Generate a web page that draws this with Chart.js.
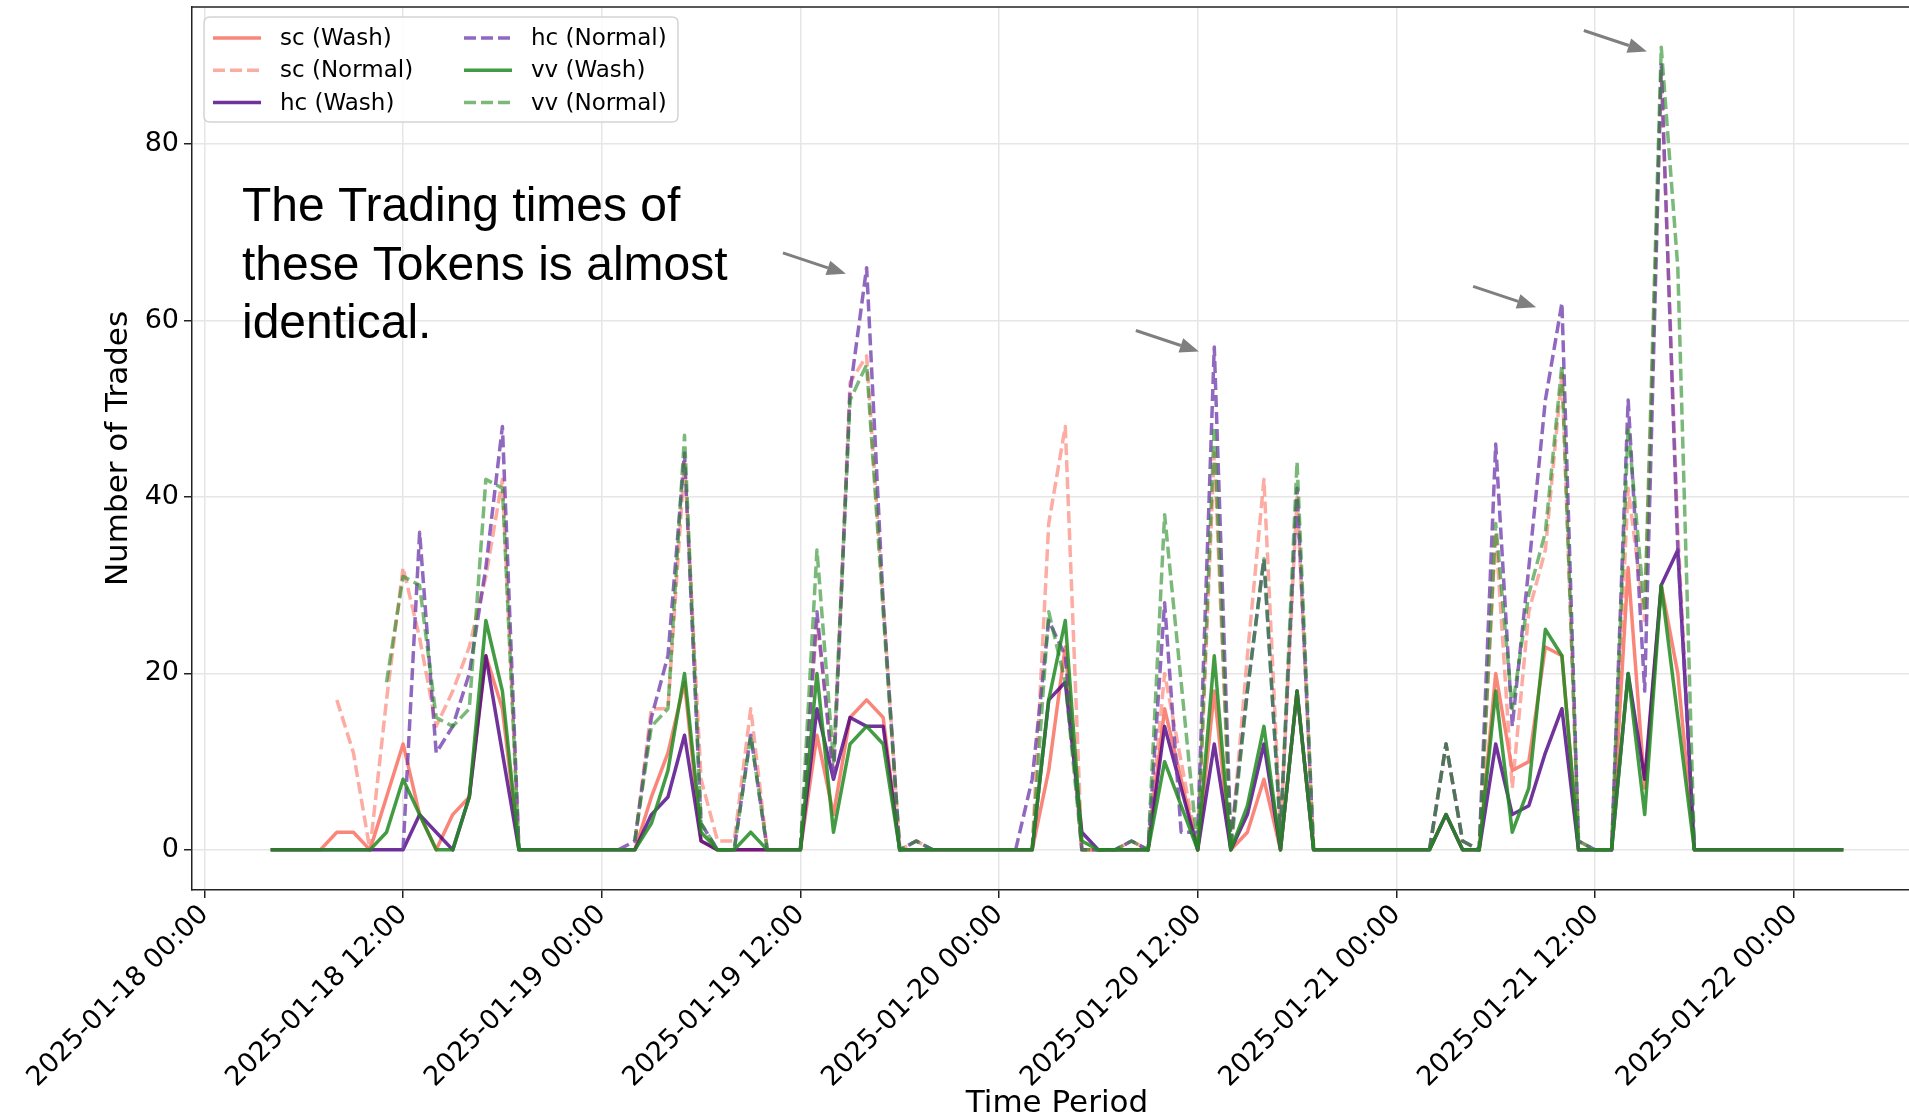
<!DOCTYPE html>
<html>
<head>
<meta charset="utf-8">
<title>Trades per hour</title>
<script src="https://cdn.jsdelivr.net/npm/chart.js@4.4.1/dist/chart.umd.min.js"></script>
<style>
  html, body { margin: 0; padding: 0; background: #fff; overflow: hidden; }
  #wrap { width: 1909px; height: 1119px; overflow: hidden; }
</style>
</head>
<body>
<div id="wrap"><canvas id="tradesChart" width="1925" height="1119"></canvas></div>
<script>
// hourly counts, first value is 2025-01-18 04:00, last is 2025-01-22 03:00
const firstHour = 4; // hours after 2025-01-18 00:00

let scWash = [
  0, 0, 0, 0, 2, 2, 0, 6, 12, 4, 0, 4, 6, 22, 16, 0, 0, 0, 0, 0,
  0, 0, 0, 6, 11, 19, 1, 0, 0, 0, 0, 0, 0, 13, 4, 15, 17, 15, 0, 0, 0, 0, 0, 0,
  0, 0, 0, 9, 23, 0, 0, 0, 0, 0, 16, 8, 0, 18, 0, 2, 8, 0, 18, 0, 0, 0, 0, 0,
  0, 0, 0, 4, 0, 0, 20, 9, 10, 23, 22, 0, 0, 0, 32, 7, 30, 20, 0, 0, 0, 0, 0, 0,
  0, 0, 0, 0
];
let scNormal = [
  null, null, null, null, 17, 11, 0, 17, 32, 24, 14, 18, 23, 31, 42, 0, null, null, null, null,
  null, null, 1, 16, 16, 44, 8, 1, 1, 16, 0, null, 0, 26, 9, 53, 56, 28, 0, 1, 0, null, null, null,
  null, null, 0, 37, 48, 0, 0, 0, 1, 0, 20, 10, 0, 45, 0, 22, 42, 2, 40, 0, null, null, null, null,
  null, null, 0, 12, 1, 0, 36, 7, 27, 34, 54, 1, 0, 0, 41, 26, 88, 36, 0, null, null, null, null, null,
  null, null, null, null
];
let hcWash = [
  0, 0, 0, 0, 0, 0, 0, 0, 0, 4, 2, 0, 6, 22, 11, 0, 0, 0, 0, 0,
  0, 0, 0, 4, 6, 13, 1, 0, 0, 0, 0, 0, 0, 16, 8, 15, 14, 14, 0, 0, 0, 0, 0, 0,
  0, 0, 0, 17, 19, 2, 0, 0, 0, 0, 14, 7, 0, 12, 0, 4, 12, 0, 18, 0, 0, 0, 0, 0,
  0, 0, 0, 4, 0, 0, 12, 4, 5, 11, 16, 0, 0, 0, 20, 8, 30, 34, 0, 0, 0, 0, 0, 0,
  0, 0, 0, 0
];
let hcNormal = [
  null, null, null, null, null, null, null, null, 0, 36, 11, 14, 20, 32, 48, 0, null, null, null, null,
  null, 0, 1, 15, 22, 45, 3, 0, 0, 13, 0, null, 0, 27, 8, 52, 66, 28, 0, 1, 0, null, null, null,
  null, 0, 8, 26, 22, 0, 0, 0, 1, 0, 28, 2, 2, 57, 1, 18, 33, 2, 41, 0, null, null, null, null,
  null, null, 0, 12, 1, 0, 46, 14, 32, 51, 62, 1, 0, 0, 51, 18, 89, 34, 0, null, null, null, null, null,
  null, null, null, null
];
let vvWash = [
  0, 0, 0, 0, 0, 0, 0, 2, 8, 4, 0, 0, 6, 26, 18, 0, 0, 0, 0, 0,
  0, 0, 0, 3, 9, 20, 2, 0, 0, 2, 0, 0, 0, 20, 2, 12, 14, 12, 0, 0, 0, 0, 0, 0,
  0, 0, 0, 17, 26, 1, 0, 0, 0, 0, 10, 5, 0, 22, 0, 5, 14, 0, 18, 0, 0, 0, 0, 0,
  0, 0, 0, 4, 0, 0, 18, 2, 7, 25, 22, 0, 0, 0, 20, 4, 30, 15, 0, 0, 0, 0, 0, 0,
  0, 0, 0, 0
];
let vvNormal = [
  null, null, null, null, null, null, null, 19, 31, 30, 15, 14, 16, 42, 41, 0, null, null, null, null,
  null, null, 1, 14, 16, 47, 3, 0, 0, 13, 0, null, 0, 34, 10, 51, 55, 27, 0, 1, 0, null, null, null,
  null, null, 0, 27, 19, 0, 0, 0, 1, 0, 38, 19, 0, 48, 0, 18, 33, 2, 44, 0, null, null, null, null,
  null, null, 0, 12, 1, 0, 37, 16, 29, 36, 55, 1, 0, 0, 48, 27, 91, 66, 0, null, null, null, null, null,
  null, null, null, null
];

let hours = scWash.map((v, i) => firstHour + i);
let xTicks = [0, 12, 24, 36, 48, 60, 72, 84, 96];
let yTicks = [0, 20, 40, 60, 80];

let seriesLabels = ['sc (Wash)', 'sc (Normal)', 'hc (Wash)', 'hc (Normal)', 'vv (Wash)', 'vv (Normal)'];
let seriesValues = [scWash, scNormal, hcWash, hcNormal, vvWash, vvNormal];
let seriesColors = [
  'rgba(250, 128, 114, 0.95)', 'rgba(250, 128, 114, 0.65)',
  'rgba(75, 0, 130, 0.8)', 'rgba(117, 66, 175, 0.8)',
  'rgba(34, 139, 34, 0.85)', 'rgba(34, 139, 34, 0.6)'
];

// arrows point at the peaks (hour, trades)
let arrowHours = [38.75, 60.07, 80.44, 87.13];
let arrowValues = [65.3, 56.5, 61.5, 90.5];

let noteLines = ['The Trading times of', 'these Tokens is almost', 'identical.'];

function hourLabel(h) {
  let day = 18 + Math.floor(h / 24);
  let hh = h % 24;
  return '2025-01-' + String(day).padStart(2, '0') + ' ' + String(hh).padStart(2, '0') + ':00';
}

let datasets = seriesLabels.map((label, i) => ({
  label: label,
  data: seriesValues[i].map((v, j) => ({ x: hours[j], y: v })),
  borderColor: seriesColors[i],
  backgroundColor: seriesColors[i],
  borderDash: i % 2 === 1 ? [12, 5] : [],
  borderWidth: 3.5,
  borderJoinStyle: 'round',
  pointRadius: 0,
  tension: 0,
  fill: false,
  spanGaps: false,
  order: 6 - i
}));

function drawArrow(ctx, x0, y0, x1, y1) {
  let a = Math.atan2(y1 - y0, x1 - x0);
  let headLen = 19, headW = 7.5;
  let bx = x1 - headLen * Math.cos(a), by = y1 - headLen * Math.sin(a);
  ctx.beginPath();
  ctx.moveTo(x0, y0);
  ctx.lineTo(bx, by);
  ctx.stroke();
  ctx.beginPath();
  ctx.moveTo(x1, y1);
  ctx.lineTo(bx + headW * Math.sin(a), by - headW * Math.cos(a));
  ctx.lineTo(bx - headW * Math.sin(a), by + headW * Math.cos(a));
  ctx.closePath();
  ctx.fill();
}

function roundRect(ctx, x, y, w, h, r) {
  ctx.beginPath();
  ctx.moveTo(x + r, y);
  ctx.lineTo(x + w - r, y);
  ctx.quadraticCurveTo(x + w, y, x + w, y + r);
  ctx.lineTo(x + w, y + h - r);
  ctx.quadraticCurveTo(x + w, y + h, x + w - r, y + h);
  ctx.lineTo(x + r, y + h);
  ctx.quadraticCurveTo(x, y + h, x, y + h - r);
  ctx.lineTo(x, y + r);
  ctx.quadraticCurveTo(x, y, x + r, y);
  ctx.closePath();
}

let overlay = {
  id: 'overlay',
  afterDatasetsDraw(chart) {
    let ctx = chart.ctx;
    let area = chart.chartArea;
    let xs = chart.scales.x, ys = chart.scales.y;
    ctx.save();

    // top spine
    ctx.strokeStyle = '#222';
    ctx.lineWidth = 1.5;
    ctx.beginPath();
    ctx.moveTo(area.left, area.top);
    ctx.lineTo(area.right, area.top);
    ctx.stroke();

    // arrows
    ctx.strokeStyle = '#7f7f7f';
    ctx.fillStyle = '#7f7f7f';
    ctx.lineWidth = 3;
    arrowHours.forEach((h, i) => {
      let tx = xs.getPixelForValue(h), ty = ys.getPixelForValue(arrowValues[i]);
      drawArrow(ctx, tx - 63, ty - 21, tx, ty);
    });

    // note
    ctx.fillStyle = '#000';
    ctx.font = '48px "Liberation Sans", Arial, sans-serif';
    ctx.textAlign = 'left';
    ctx.textBaseline = 'alphabetic';
    noteLines.forEach((t, i) => ctx.fillText(t, area.left + 50, area.top + 214 + i * 58.5));

    // legend, two columns filled top to bottom
    let lx = area.left + 12, ly = area.top + 10;
    ctx.fillStyle = 'rgba(255,255,255,0.85)';
    ctx.strokeStyle = '#d4d4d4';
    ctx.lineWidth = 1.5;
    roundRect(ctx, lx, ly, 474, 105, 6);
    ctx.fill();
    ctx.stroke();
    ctx.font = '23px "DejaVu Sans", sans-serif';
    ctx.textBaseline = 'middle';
    chart.data.datasets.forEach((ds, i) => {
      let col = Math.floor(i / 3), row = i % 3;
      let x0 = lx + 9 + col * 251;
      let y0 = ly + 21 + row * 32.3;
      ctx.strokeStyle = ds.borderColor;
      ctx.lineWidth = 3.5;
      ctx.setLineDash(ds.borderDash);
      ctx.beginPath();
      ctx.moveTo(x0, y0);
      ctx.lineTo(x0 + 48, y0);
      ctx.stroke();
      ctx.setLineDash([]);
      ctx.fillStyle = '#000';
      ctx.fillText(ds.label, x0 + 67, y0 + 1);
    });
    ctx.restore();
  }
};

let tickFont = { family: '"DejaVu Sans", sans-serif', size: 27 };
let titleFont = { family: '"DejaVu Sans", sans-serif', size: 31, lineHeight: 1.0 };

let tradesChart = new Chart(document.getElementById('tradesChart').getContext('2d'), {
  type: 'line',
  data: { datasets: datasets },
  options: {
    responsive: false,
    animation: false,
    devicePixelRatio: 1,
    layout: { padding: { top: 7, right: 3, bottom: 0, left: 0 } },
    plugins: {
      legend: { display: false },
      tooltip: { enabled: false }
    },
    scales: {
      x: {
        type: 'linear',
        min: -0.75,
        max: 103.75,
        afterBuildTicks: (s) => { s.ticks = xTicks.map(v => ({ value: v })); },
        afterFit: (s) => { s.height = 229; },
        grid: { color: '#e6e6e6', lineWidth: 1.5, tickColor: '#222', tickLength: 8 },
        border: { color: '#222', width: 1.5 },
        ticks: {
          autoSkip: false,
          maxRotation: 45,
          minRotation: 45,
          padding: 1,
          color: '#000',
          font: tickFont,
          callback: (v) => hourLabel(v)
        },
        title: { display: true, text: 'Time Period', color: '#000', font: titleFont, padding: { top: 0, bottom: 0 } }
      },
      y: {
        min: -4.55,
        max: 95.55,
        afterBuildTicks: (s) => { s.ticks = yTicks.map(v => ({ value: v })); },
        afterFit: (s) => { s.width = 192; s.paddingTop = 0; s.paddingBottom = 0; },
        grid: { color: '#e6e6e6', lineWidth: 1.5, tickColor: '#222', tickLength: 8 },
        border: { color: '#222', width: 1.5 },
        ticks: { padding: 5, color: '#000', font: tickFont },
        title: { display: true, text: 'Number of Trades', color: '#000', font: titleFont, padding: { top: 103, bottom: 0 } }
      }
    }
  },
  plugins: [overlay]
});
</script>
</body>
</html>
